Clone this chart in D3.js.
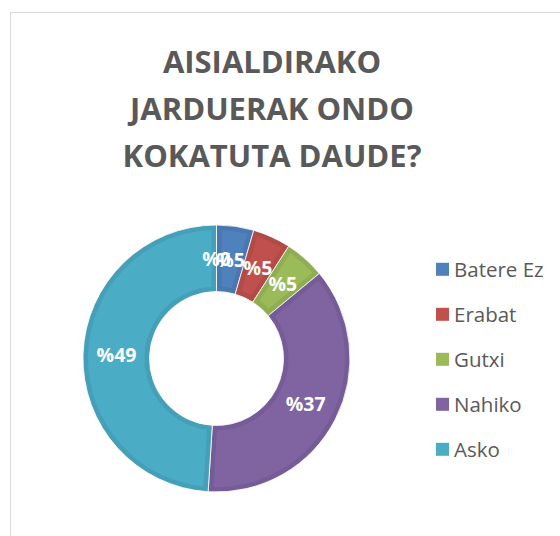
<!DOCTYPE html>
<html>
<head>
<meta charset="utf-8">
<script src="https://cdn.jsdelivr.net/npm/d3@7/dist/d3.min.js"></script>
<style>
  html, body { margin: 0; padding: 0; background: #fff; }
  svg { display: block; }
</style>
</head>
<body>
<svg id="chart" width="560" height="536"></svg>
<script>
// Survey answers: share of respondents (%) per answer
const categories = ["Batere Ez", "Erabat", "Gutxi", "Nahiko", "Asko", ""];
const values = [4.5, 4.6, 4.9, 37.0, 49.0, 0];
const colors = ["#4F81BD", "#C0504D", "#9BBB59", "#8064A2", "#4BACC6", "#F79646"];
const titleLines = ["AISIALDIRAKO", "JARDUERAK ONDO", "KOKATUTA DAUDE?"];

const svg = d3.select("#chart");
const W = 560, H = 536;

// chart frame
svg.append("rect")
  .attr("x", 10.5).attr("y", 12.5)
  .attr("width", W).attr("height", H)
  .attr("fill", "#fff").attr("stroke", "#d9d9d9").attr("stroke-width", 1);

// title
svg.append("g").selectAll("text")
  .data(titleLines)
  .join("text")
  .attr("x", 272)
  .attr("y", (d, i) => 73 + i * 46.8)
  .attr("text-anchor", "middle")
  .attr("font-family", "'Open Sans', sans-serif")
  .attr("font-weight", 700)
  .attr("font-size", 31)
  .attr("fill", "#595959")
  .text(d => d);

const data = categories.map((c, i) => ({ name: c, value: values[i], color: colors[i] }));

const cx = 216.5, cy = 358.5;
const rOuter = 133.5, rInner = 67;

const pie = d3.pie().sort(null).value(d => d.value);
const arcs = pie(data);

const arcBase = d3.arc().innerRadius(rInner).outerRadius(rOuter);
const arcInset = d3.arc().innerRadius(rInner + 5).outerRadius(rOuter - 5)
  .padAngle(0.1).padRadius(100);
const arcLabel = d3.arc().innerRadius(100).outerRadius(100);

const g = svg.append("g").attr("transform", `translate(${cx},${cy})`);

// slice body with a darker rim
g.selectAll("path.base")
  .data(arcs.filter(d => d.value > 0))
  .join("path")
  .attr("class", "base")
  .attr("d", arcBase)
  .attr("fill", d => d3.color(d.data.color).darker(0.22))
  .attr("stroke", "#ffffff")
  .attr("stroke-width", 0.8);

g.selectAll("path.face")
  .data(arcs.filter(d => d.value > 0))
  .join("path")
  .attr("class", "face")
  .attr("d", arcInset)
  .attr("fill", d => d.data.color);

// percentage labels
const fmt = v => "%" + Math.round(v);
g.selectAll("text.lbl")
  .data(arcs)
  .join("text")
  .attr("class", "lbl")
  .attr("transform", d => `translate(${arcLabel.centroid(d)})`)
  .attr("text-anchor", "middle")
  .attr("dy", "0.36em")
  .attr("font-family", "'Open Sans', sans-serif")
  .attr("font-weight", 700)
  .attr("font-size", 19.5)
  .attr("fill", "#ffffff")
  .text(d => fmt(d.data.value));

// legend
const legendData = data.filter(d => d.name !== "");
const lg = svg.append("g").attr("transform", "translate(436,0)");
const item = lg.selectAll("g")
  .data(legendData)
  .join("g")
  .attr("transform", (d, i) => `translate(0,${269.3 + i * 45})`);

item.append("rect")
  .attr("x", 0).attr("y", -6.5)
  .attr("width", 13).attr("height", 13)
  .attr("fill", d => d.color);

item.append("text")
  .attr("x", 18)
  .attr("dy", "0.36em")
  .attr("font-family", "'Open Sans', sans-serif")
  .attr("font-size", 20.5)
  .attr("fill", "#595959")
  .text(d => d.name);
</script>
</body>
</html>
